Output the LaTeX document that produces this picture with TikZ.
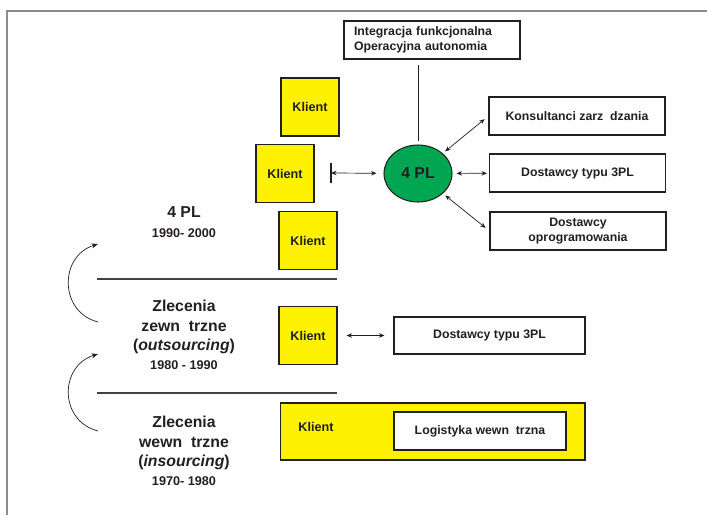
\documentclass[tikz,border=0pt]{standalone}
\usepackage{fontspec}
\setmainfont{Liberation Sans}
\usepackage{xcolor}
\definecolor{kyellow}{HTML}{FFF200}
\definecolor{kgreen}{HTML}{00A651}
\definecolor{kink}{HTML}{231F20}
\definecolor{kframe}{HTML}{8C8C8C}
\usetikzlibrary{shapes.geometric, arrows.meta}
\newcommand{\yrsfont}{\fontsize{7.2}{8}\selectfont}
\tikzset{
  klient/.style={rectangle, draw=kink, line width=0.6pt, fill=kyellow, text=kink,
                 minimum width=1.16cm, minimum height=1.16cm, inner sep=1pt, font=\bfseries\fontsize{7.2}{8}\selectfont},
  wbox/.style  ={rectangle, draw=kink, line width=0.6pt, fill=white, text=kink, align=center,
                 minimum width=3.52cm, minimum height=0.76cm, inner sep=1pt, font=\bfseries\fontsize{7}{8.5}\selectfont},
  hub/.style   ={ellipse, draw=kink, line width=0.6pt, fill=kgreen, text=kink,
                 minimum width=1.36cm, minimum height=1.14cm, inner sep=0pt, font=\bfseries\fontsize{9}{10}\selectfont},
  era/.style   ={align=center, text=kink, inner sep=0pt, font=\bfseries\fontsize{9}{11}\selectfont},
  darr/.style  ={{Stealth[length=1.1mm, width=0.9mm]}-{Stealth[length=1.1mm, width=0.9mm]}, line width=0.4pt, color=kink},
  carr/.style  ={-{Stealth[length=1.3mm, width=1mm]}, line width=0.4pt, color=kink},
  sepline/.style={line width=0.6pt, color=kink!85},
}
\begin{document}
\begin{tikzpicture}[x=0.02cm, y=-0.02cm]
  \useasboundingbox (0,0) rectangle (707,515);
  \draw[kframe, line width=1.1pt] (707,11) -- (7,11) -- (7,515);
  % 4 PL
  \node[wbox, align=left, text width=3.12cm, inner xsep=0.16cm] (integ) at (432,40) {Integracja funkcjonalna\\Operacyjna autonomia};
  \node[hub] (fourpl) at (418,173.5) {4 PL};
  \foreach \x/\y [count=\i] in {310/107, 285/173.5, 308/240.5} \node[klient] (k\i) at (\x,\y) {Klient};
  \node[wbox] (kons) at (577,116) {Konsultanci zarz\ \ dzania};
  \node[wbox] (dost) at (577.5,173) {Dostawcy typu 3PL};
  \node[wbox] (opro) at (578,231) {Dostawcy\\oprogramowania};
  \draw[kink, line width=0.5pt, shorten <=0.1cm, shorten >=0.06cm, xshift=0.08cm] (integ.south -| fourpl.north) -- (fourpl.north);
  \coordinate (tick) at (331,173);
  \draw[kink, line width=0.6pt] (tick) ++(0,-10) -- ++(0,20);
  \draw[darr, shorten >=0.14cm] (tick) -- (fourpl);
  \draw[darr, shorten <=0.06cm, shorten >=0.1cm] (fourpl) -- (kons.west);
  \draw[darr, shorten <=0.08cm, shorten >=0.04cm] (fourpl) -- (dost);
  \draw[darr, shorten <=0.06cm, shorten >=0.1cm] (fourpl) -- (opro.west);
  \node[era] (e4pl) at (184,222) {4 PL\\{\yrsfont 1990- 2000}};
  \draw[sepline] (97,279) -- (337,279);
  % outsourcing
  \node[era] (eout) at (184,335) {Zlecenia\\zewn\ \ trzne\\(\textit{outsourcing})\\{\yrsfont 1980 - 1990}};
  \node[klient] (k4) at (308,335.5) {Klient};
  \node[wbox, minimum width=3.82cm, minimum height=0.74cm] (dost2) at (489.5,335.5) {Dostawcy typu 3PL};
  \draw[darr, shorten <=0.18cm, shorten >=0.18cm] (k4) -- (dost2);
  \draw[sepline] (97,393) -- (337,393);
  % insourcing
  \node[era] (eins) at (184,451) {Zlecenia\\wewn\ \ trzne\\(\textit{insourcing})\\{\yrsfont 1970- 1980}};
  \node[klient, minimum width=6.1cm, minimum height=1.14cm] (kbig) at (432.5,431.5) {};
  \node[text=kink, font=\bfseries\fontsize{7.2}{8}\selectfont] (kbiglbl) at (316,427) {Klient};
  \node[wbox, minimum width=3.44cm] (logi) at (480,431) {Logistyka wewn\ \ trzna};
  % curved arrows
  \coordinate (c1a) at (98,322); \coordinate (c1b) at (98,244);
  \draw[carr] (c1a) .. controls (59,312) and (59,256) .. (c1b);
  \coordinate (c2a) at (98,431); \coordinate (c2b) at (98,354);
  \draw[carr] (c2a) .. controls (59,421) and (59,366) .. (c2b);
\end{tikzpicture}
\end{document}
